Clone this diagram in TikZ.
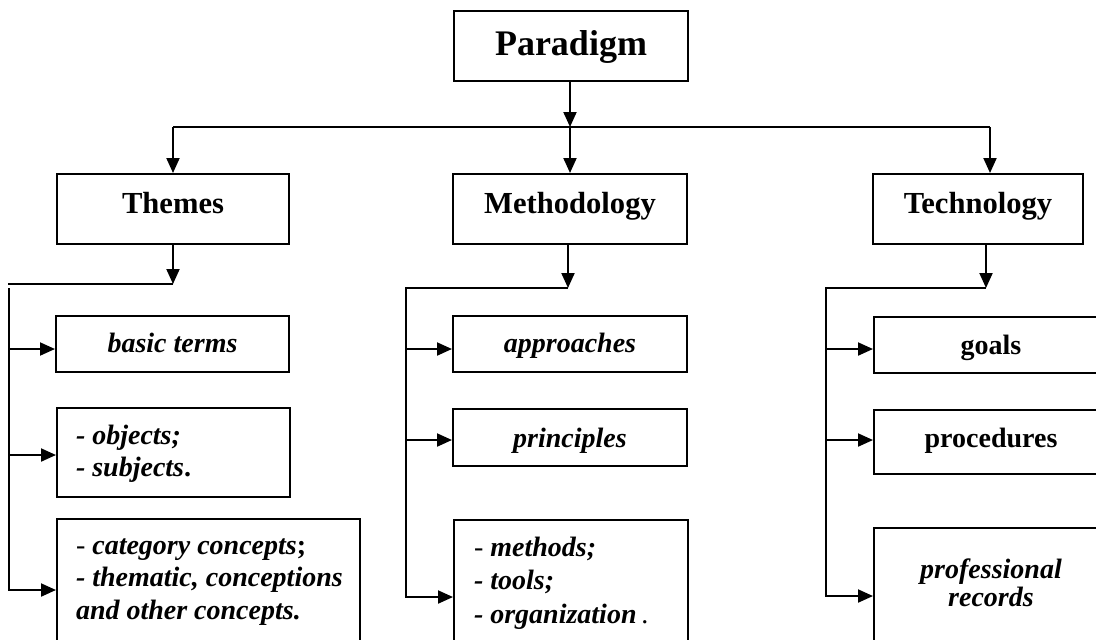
\documentclass[tikz,border=0pt]{standalone}
\usepackage{fontspec}
\setmainfont{Liberation Serif}
\usetikzlibrary{arrows.meta}
\tikzset{
  box/.style={draw, line width=1pt, inner sep=0pt},
  conn/.style={line width=1pt},
  arr/.style={line width=1pt, -{Triangle[length=7.5pt,width=6.5pt]}},
  top/.style={box, text height=12.5pt, text depth=3.5pt, font=\fontsize{18pt}{20pt}\selectfont\bfseries},
  head/.style={box, minimum height=35pt, text height=10.5pt, text depth=6pt, font=\fontsize{15.3pt}{18pt}\selectfont\bfseries},
  item/.style={box, text height=10pt, text depth=1.5pt, font=\fontsize{14pt}{16pt}\selectfont\bfseries\itshape},
  itemup/.style={box, text height=10pt, text depth=1.5pt, font=\fontsize{14pt}{16pt}\selectfont\bfseries},
  tall/.style={box, anchor=north west, font=\fontsize{14pt}{16pt}\selectfont\bfseries\itshape},
}
\begin{document}
\begin{tikzpicture}[x=0.5pt,y=-0.5pt]
\useasboundingbox (0,0) rectangle (1096,639);
\begin{scope}
\clip (0,0) rectangle (1096,639);
% top level
\node[top, minimum width=117pt, minimum height=35pt] (par) at (571,46) {Paradigm};
\node[head, minimum width=116pt] (themes) at (173,209) {Themes};
\node[head, minimum width=117pt] (meth) at (570,209) {Methodology};
\node[head, minimum width=105pt] (tech) at (978,209) {Technology};
% themes column
\node[item, minimum width=116.5pt, minimum height=28pt] (basic) at (172.5,344) {basic terms};
\node[tall] (objects) at (56,407) {\parbox[t][44.5pt][t]{116.5pt}{\raggedright\leftskip=9.5pt\baselineskip=16pt
  \rule{0pt}{18pt}- objects;\\
  - subjects{\upshape.}}};
\node[tall] (category) at (56,518) {\parbox[t][80pt][t]{151.5pt}{\raggedright\leftskip=9.5pt\baselineskip=16.25pt
  \rule{0pt}{17.5pt}{\mdseries\upshape-} category concepts{\upshape;}\\
  - thematic, conceptions\\
  and other concepts.}};
% methodology column
\node[item, minimum width=117pt, minimum height=28pt] (appr) at (570,344) {approaches};
\node[item, minimum width=117pt, minimum height=28.5pt, text depth=0.5pt] (princ) at (570,437.5) {principles};
\node[tall] (methods) at (453,519) {\parbox[t][80pt][t]{117pt}{\raggedright\leftskip=10pt\baselineskip=16.75pt
  \rule{0pt}{18pt}{\mdseries\upshape-} methods;\\
  - tools;\\
  - organization\,{\mdseries\upshape.}}};
% technology column
\node[itemup, anchor=north west, minimum width=117pt, minimum height=28pt, text depth=1pt] (goals) at (873,316) {goals};
\node[itemup, anchor=north west, minimum width=117pt, minimum height=32pt, text depth=5pt] (proc) at (873,409) {procedures};
\node[tall] (prof) at (873,527) {\parbox[t][80pt][t]{117pt}{\centering\baselineskip=14pt
  \rule{0pt}{25pt}professional\\
  records}};
% top connectors
\coordinate (pb) at (570,127);
\coordinate (tL) at (173,127);
\coordinate (tR) at (990,127);
\draw[arr] (par.south -| pb) -- (pb);
\draw[conn] (tL) -- (tR);
\draw[arr] (tL) -- (tL |- themes.north);
\draw[arr] (pb) -- (pb |- meth.north);
\draw[arr] (tR) -- (tR |- tech.north);
% themes connectors
\coordinate (thb) at (173,284);
\coordinate (th0) at (8,284);
\coordinate (tv0) at (9,288);
\coordinate (tv1) at (9,349);
\coordinate (tv2) at (9,455);
\coordinate (tv3) at (9,590);
\draw[arr] (themes.south -| thb) -- (thb);
\draw[conn] (thb) -- (th0);
\draw[arr] (tv0) -- (tv3) -- (tv3 -| category.west);
\draw[arr] (tv1) -- (tv1 -| basic.west);
\draw[arr] (tv2) -- (tv2 -| objects.west);
% methodology connectors
\coordinate (mb) at (568,288);
\coordinate (mv0) at (406,288);
\coordinate (mv1) at (406,349);
\coordinate (mv2) at (406,440);
\coordinate (mv3) at (406,597);
\draw[arr] (meth.south -| mb) -- (mb);
\draw[arr] (mb) -- (mv0) -- (mv3) -- (mv3 -| methods.west);
\draw[arr] (mv1) -- (mv1 -| appr.west);
\draw[arr] (mv2) -- (mv2 -| princ.west);
% technology connectors
\coordinate (kb) at (986,288);
\coordinate (kv0) at (826,288);
\coordinate (kv1) at (826,349);
\coordinate (kv2) at (826,440);
\coordinate (kv3) at (826,596);
\draw[arr] (tech.south -| kb) -- (kb);
\draw[arr] (kb) -- (kv0) -- (kv3) -- (kv3 -| prof.west);
\draw[arr] (kv1) -- (kv1 -| goals.west);
\draw[arr] (kv2) -- (kv2 -| proc.west);
\end{scope}
\end{tikzpicture}
\end{document}
